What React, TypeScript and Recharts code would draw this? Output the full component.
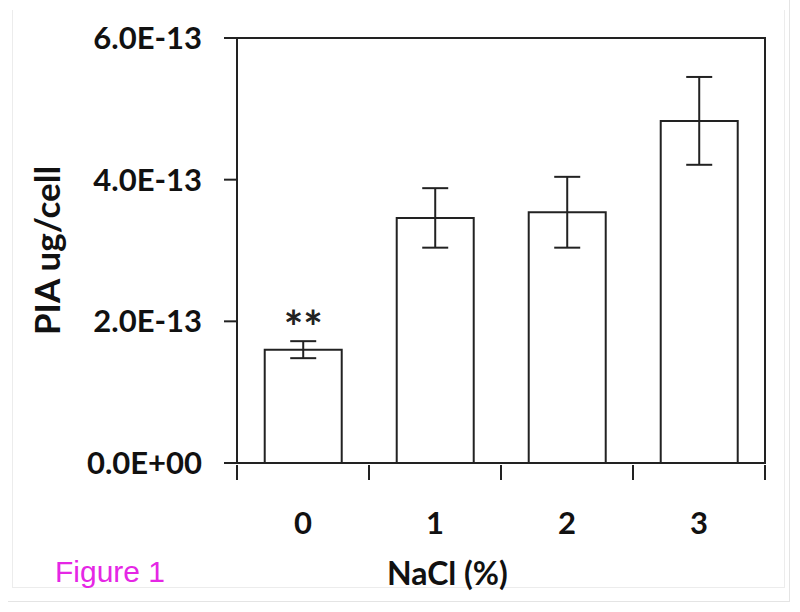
import React from 'react';
import { BarChart, Bar, XAxis, YAxis, ErrorBar, LabelList, ReferenceArea } from 'recharts';

const categories = ['0', '1', '2', '3'];
const values = [1.6e-13, 3.46e-13, 3.54e-13, 4.83e-13];
const errors = [0.12e-13, 0.42e-13, 0.5e-13, 0.62e-13];
const significance = ['**', '', '', ''];
const yTicks = [0, 2e-13, 4e-13, 6e-13];
const yTickLabels = ['0.0E+00', '2.0E-13', '4.0E-13', '6.0E-13'];

const data = categories.map((c, i) => ({ name: c, value: values[i], err: errors[i], sig: significance[i] }));

const FONT = 'Lato, "Open Sans", sans-serif';

const XTick = (props: any) => {
  const { x, y, payload, index, width, visibleTicksCount } = props;
  const band = width / visibleTicksCount;
  const left = x - band / 2;
  const right = x + band / 2;
  return (
    <g>
      <line x1={left} y1={y} x2={left} y2={y + 15} stroke="#222" strokeWidth={2} />
      {index === visibleTicksCount - 1 && (
        <line x1={right} y1={y} x2={right} y2={y + 15} stroke="#222" strokeWidth={2} />
      )}
      <text x={x} y={y + 69} textAnchor="middle" fontFamily={FONT} fontWeight="bold" fontSize={31} fill="#111">
        {payload.value}
      </text>
    </g>
  );
};

const YLabel = (props: any) => {
  const { viewBox } = props;
  const cx = viewBox.x + 60;
  const cy = viewBox.y + viewBox.height / 2;
  return (
    <text
      x={cx}
      y={cy}
      transform={`rotate(-90 ${cx} ${cy})`}
      textAnchor="middle"
      fontFamily={FONT}
      fontWeight="bold"
      fontSize={35}
      fill="#111"
    >
      PIA ug/cell
    </text>
  );
};

export default function App() {
  return (
    <div style={{ position: 'absolute', left: 0, top: 0, width: 800, height: 612, background: '#fff' }}>
      <div style={{ position: 'absolute', left: 12, top: 10, width: 773, height: 578, border: '1px solid #ececec', borderTop: 'none', boxSizing: 'border-box' }} />
      <div style={{ position: 'absolute', left: 8, top: 0, width: 782, height: 602, borderRight: '1px solid #e4e4e4', borderBottom: '1px solid #e4e4e4', boxSizing: 'border-box' }} />
      <div style={{ position: 'absolute', left: 0, top: 0 }}>
        <BarChart width={800} height={612} data={data} margin={{ top: 38, right: 35, left: 0, bottom: 69 }} barCategoryGap="21%">
          <XAxis
            dataKey="name"
            height={80}
            axisLine={{ stroke: '#222', strokeWidth: 2 }}
            tickLine={false}
            tickSize={0}
            tick={<XTick />}
            interval={0}
          />
          <YAxis
            width={237}
            domain={[0, 6e-13]}
            ticks={yTicks}
            interval={0}
            tickFormatter={(v: number) => yTickLabels[yTicks.indexOf(v)] ?? ''}
            tickSize={13}
            tickMargin={22}
            axisLine={{ stroke: '#222', strokeWidth: 2 }}
            tickLine={{ stroke: '#222', strokeWidth: 2 }}
            tick={{ fontFamily: FONT, fontWeight: 'bold', fontSize: 31, fill: '#111' }}
            label={<YLabel />}
          />
          <ReferenceArea x1="0" x2="3" y1={0} y2={6e-13} fill="none" fillOpacity={0} stroke="#222" strokeWidth={2} ifOverflow="visible" />
          <Bar dataKey="value" fill="#fff" stroke="#222" strokeWidth={2} isAnimationActive={false}>
            <ErrorBar dataKey="err" width={13} stroke="#222" strokeWidth={2} direction="y" />
            <LabelList dataKey="sig" position="top" offset={6} fontFamily={FONT} fontWeight="bold" fontSize={46} fill="#222" />
          </Bar>
        </BarChart>
      </div>
      <div style={{ position: 'absolute', left: 0, top: 0, width: 800, pointerEvents: 'none' }}>
        <div style={{ position: 'absolute', left: 387, top: 553, fontFamily: FONT, fontWeight: 'bold', fontSize: 32, color: '#111', whiteSpace: 'nowrap' }}>
          NaCl (%)
        </div>
        <div style={{ position: 'absolute', left: 55, top: 555, fontFamily: 'Liberation Sans, Arial, sans-serif', fontSize: 30, color: '#e526e5', whiteSpace: 'nowrap' }}>
          Figure 1
        </div>
      </div>
    </div>
  );
}
